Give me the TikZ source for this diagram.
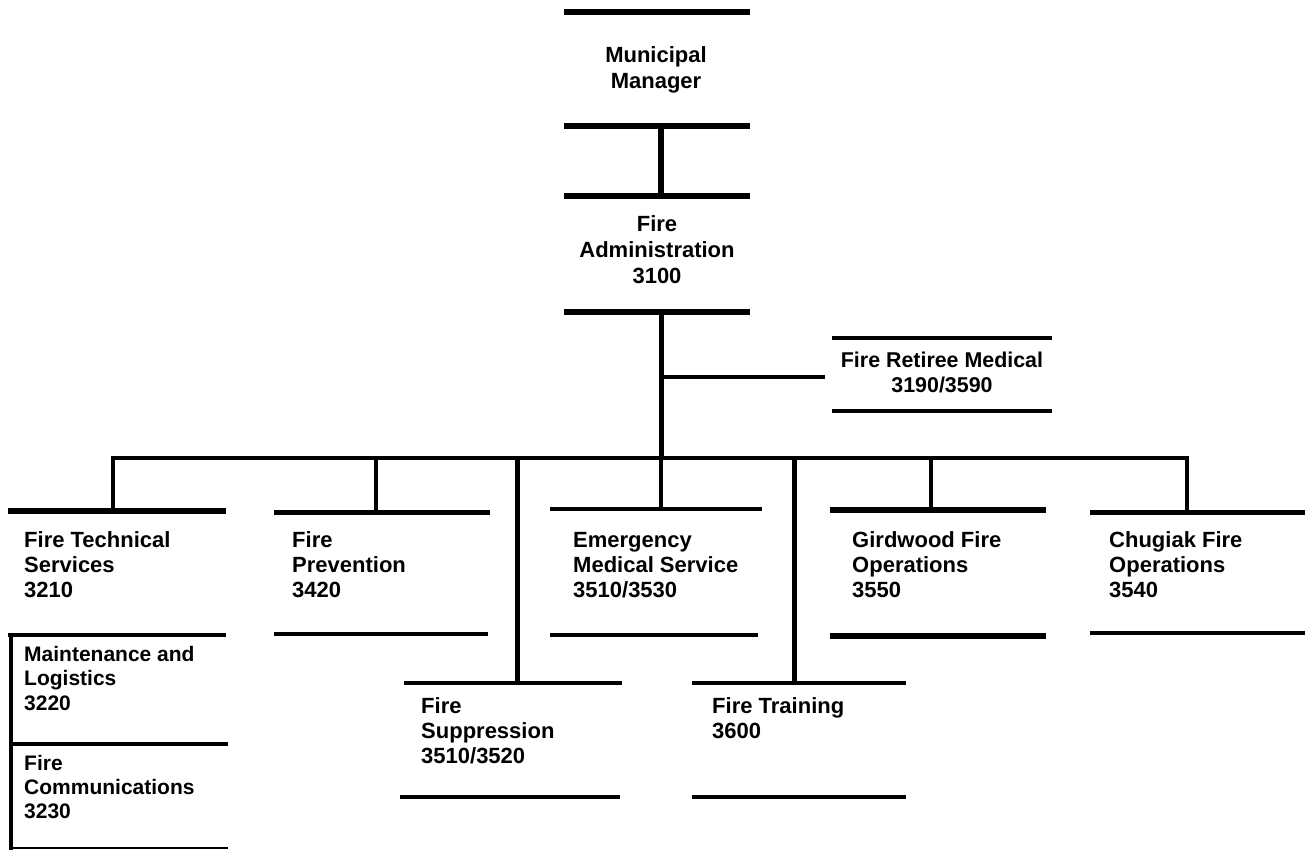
\documentclass[tikz,border=0pt]{standalone}
\usepackage{fontspec}
\setmainfont{Liberation Sans}
\newcommand{\firststrut}{\rule{0pt}{16pt}}
\begin{document}
\begin{tikzpicture}[x=1pt,y=-1pt,
  thinbar/.style={line width=4pt},
  thickbar/.style={line width=5.5pt},
  lbl/.style={font=\fontsize{22}{25}\selectfont\bfseries, align=left, anchor=north west, inner sep=0pt},
  clbl/.style={font=\fontsize{22}{26}\selectfont\bfseries, align=center, anchor=north, inner sep=0pt}]
\useasboundingbox (0,0) rectangle (1305,850);

% ---------- text nodes ----------
\node[clbl] (mm) at (656,46) {\firststrut Municipal\\Manager};
\node[clbl] (fa) at (657,215) {\firststrut Fire\\Administration\\3100};
\node[clbl, font=\fontsize{21.4}{25}\selectfont\bfseries] (frm) at (942,351) {\firststrut Fire Retiree Medical\\3190/3590};
\node[lbl] (fts) at (24,531) {\firststrut Fire Technical\\Services\\3210};
\node[lbl] (fp) at (292,531) {\firststrut Fire\\Prevention\\3420};
\node[lbl] (ems) at (573,531) {\firststrut Emergency\\Medical Service\\3510/3530};
\node[lbl] (gw) at (852,531) {\firststrut Girdwood Fire\\Operations\\3550};
\node[lbl] (ch) at (1109,531) {\firststrut Chugiak Fire\\Operations\\3540};
\node[lbl, font=\fontsize{21}{24.5}\selectfont\bfseries] (ml) at (24,645) {\firststrut Maintenance and\\Logistics\\3220};
\node[lbl, font=\fontsize{21}{24}\selectfont\bfseries] (fc) at (24,754) {\firststrut Fire\\Communications\\3230};
\node[lbl] (fs) at (421,697) {\firststrut Fire\\Suppression\\3510/3520};
\node[lbl] (ft) at (712,697) {\firststrut Fire Training\\3600};

% ---------- connector coordinates ----------
\coordinate (mmB) at (661,126);
\coordinate (faT) at (661,196);
\coordinate (faB) at (661,312);
\coordinate (bus) at (661,458);
\coordinate (frmJ) at (661,377);
\coordinate (frmL) at (825,377);
\coordinate (ftsT) at (113,511);
\coordinate (busL) at (113,458);
\coordinate (busR) at (1187,458);
\coordinate (chT) at (1187,512);
\coordinate (fpB) at (376,458);
\coordinate (fpT) at (376,512);
\coordinate (fsB) at (517,458);
\coordinate (fsT) at (517,683);
\coordinate (emsT) at (661,509);
\coordinate (ftB) at (794,458);
\coordinate (ftT) at (794,683);
\coordinate (gwB) at (931,458);
\coordinate (gwT) at (931,510);

% ---------- box bars ----------
% Municipal Manager
\draw[thickbar] (564,12) -- (750,12);
\draw[thickbar] (564,126) -- (750,126);
% Fire Administration
\draw[thickbar] (564,196) -- (750,196);
\draw[thickbar] (564,312) -- (750,312);
% Fire Retiree Medical
\draw[thinbar] (832,338) -- (1052,338);
\draw[thinbar] (832,411) -- (1052,411);
% Fire Technical Services
\draw[line width=5.5pt] (8,511) -- (226,511);
% Maintenance / Communications box
\draw[line width=4.5pt] (8,635) -- (226,635);
\draw[thinbar] (11,633) -- (11,850);
\draw[thinbar] (11,744) -- (228,744);
\draw[line width=2.5pt] (11,848) -- (228,848);
% Fire Prevention
\draw[line width=5pt] (274,512) -- (490,512);
\draw[thinbar] (274,634) -- (488,634);
% EMS
\draw[thinbar] (550,509) -- (762,509);
\draw[thinbar] (550,635) -- (758,635);
% Fire Suppression
\draw[thinbar] (404,683) -- (622,683);
\draw[thinbar] (400,797) -- (620,797);
% Fire Training
\draw[thinbar] (692,683) -- (906,683);
\draw[thinbar] (692,797) -- (906,797);
% Girdwood
\draw[thickbar] (830,510) -- (1046,510);
\draw[thickbar] (830,636) -- (1046,636);
% Chugiak
\draw[line width=5pt] (1090,512) -- (1305,512);
\draw[thinbar] (1090,633) -- (1305,633);

% ---------- connectors ----------
\draw[line width=5.5pt] (mmB) -- (faT);
\draw[line width=5pt] (faB) -- (bus);
\draw[thinbar] (frmJ) -- (frmL);
\draw[thinbar] (ftsT) -- (busL) -- (busR) -- (chT);
\draw[thinbar] (fpB) -- (fpT);
\draw[line width=5pt] (fsB) -- (fsT);
\draw[thinbar] (bus) -- (emsT);
\draw[line width=5pt] (ftB) -- (ftT);
\draw[thinbar] (gwB) -- (gwT);
\end{tikzpicture}
\end{document}
